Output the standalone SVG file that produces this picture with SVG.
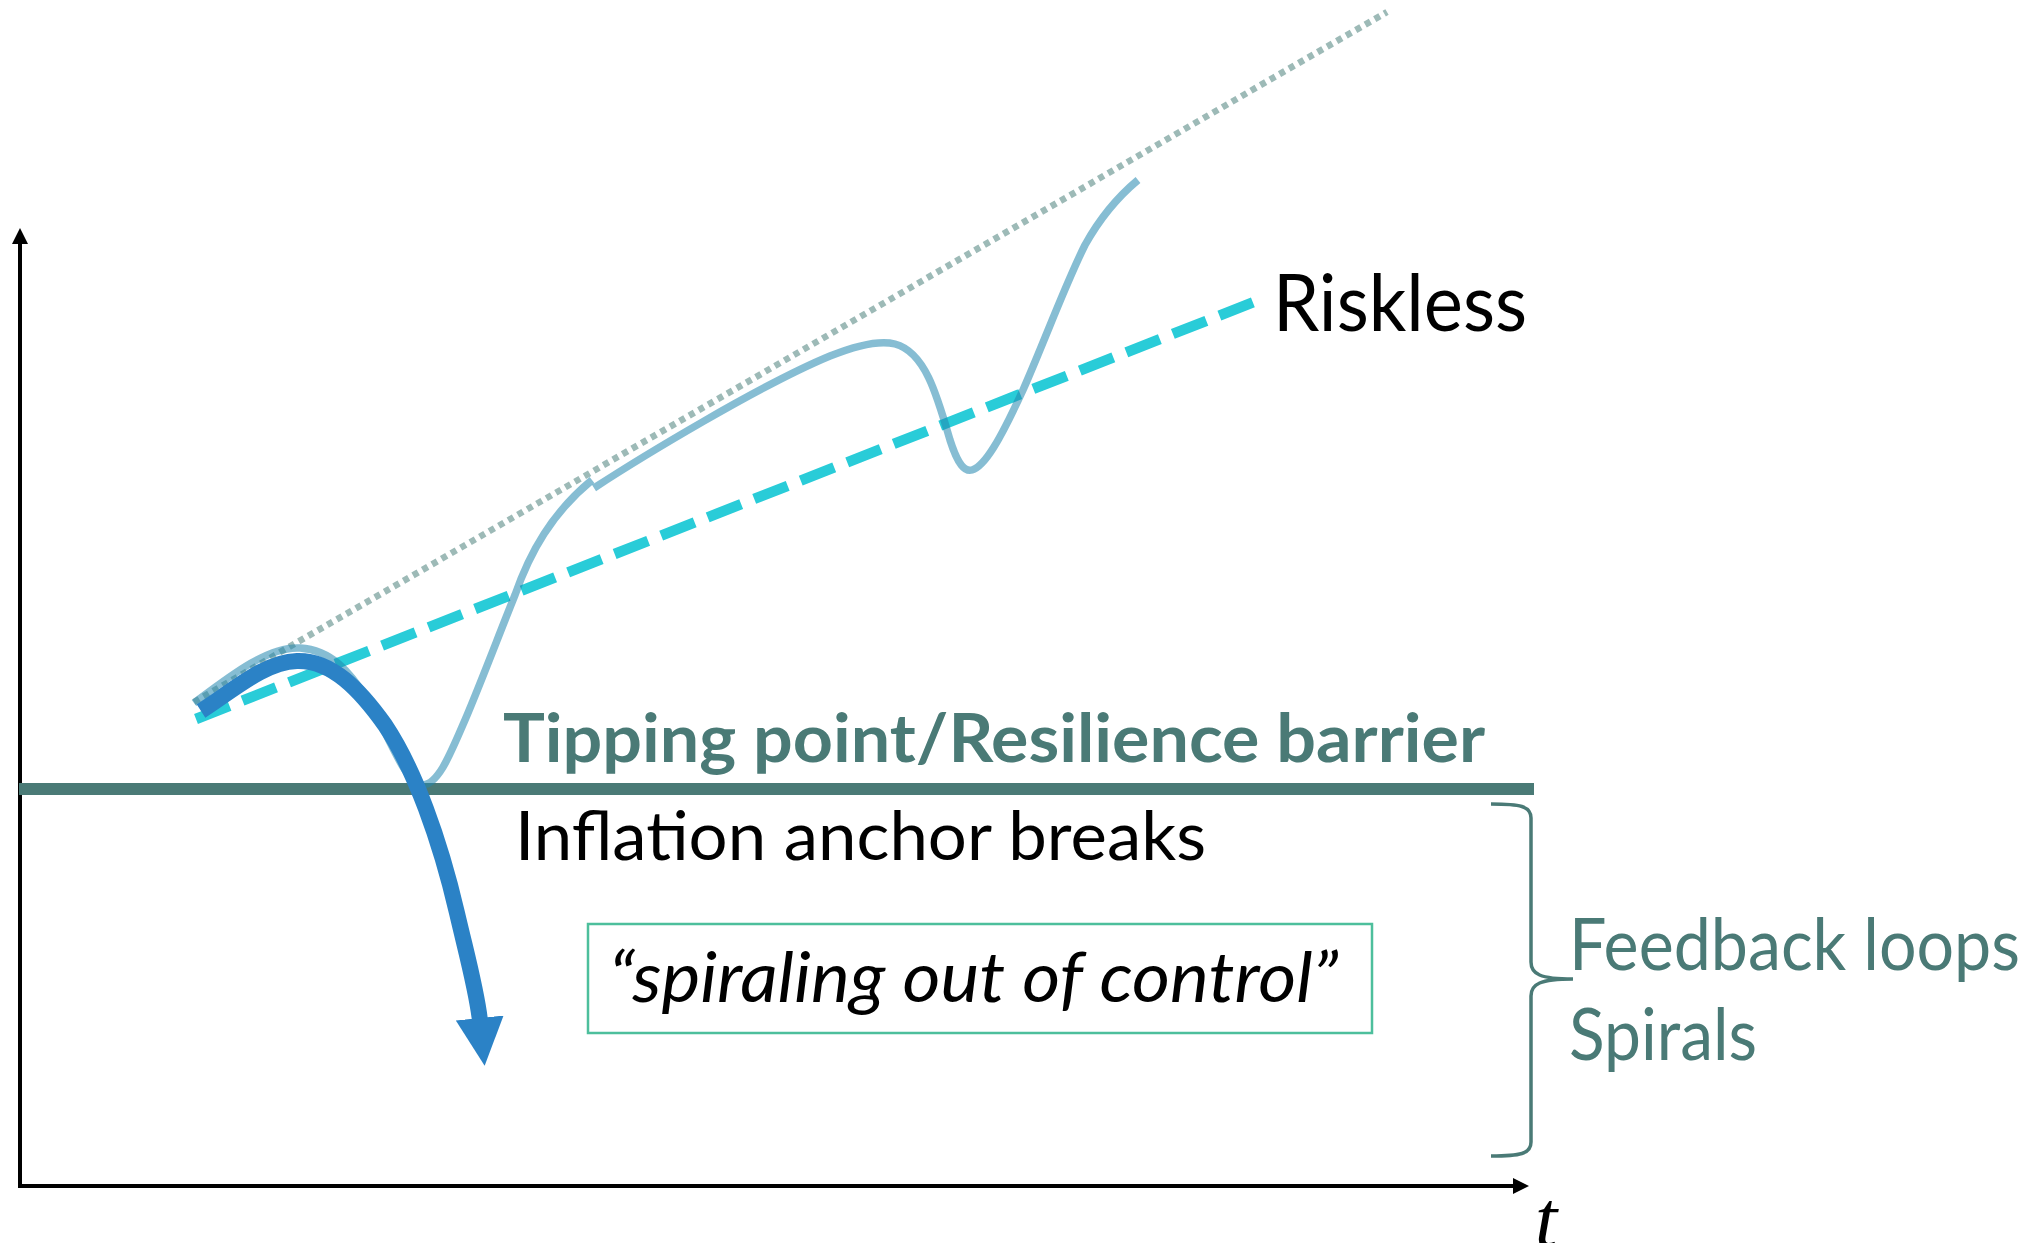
<svg xmlns="http://www.w3.org/2000/svg" width="2033" height="1243" viewBox="0 0 2033 1243">
<style>
.lbl{font-family:Lato,"Open Sans","Liberation Sans",sans-serif;}
.teal{fill:#4A7A76;}
.blk{fill:#000000;}
.ax{stroke:#000;stroke-width:4;fill:none;}
</style>
<defs>
<marker id="axHead" markerUnits="userSpaceOnUse" markerWidth="16" markerHeight="16" refX="1" refY="8" orient="auto">
<path d="M0,0 L16,8 L0,16 z" fill="#000"/>
</marker>
<marker id="blueHead" markerUnits="userSpaceOnUse" markerWidth="50" markerHeight="50" refX="3" refY="24" orient="auto">
<path d="M0,0 L48,24 L0,48 z" fill="#2B82C6"/>
</marker>
</defs>
<rect width="2033" height="1243" fill="#ffffff"/>

<g id="axes">
<line class="ax" x1="20" y1="1188" x2="20" y2="243" marker-end="url(#axHead)"/>
<line class="ax" x1="18" y1="1186" x2="1514" y2="1186" marker-end="url(#axHead)"/>
<text x="1535" y="1246" font-family="'Liberation Serif',serif" font-style="italic" font-size="80" fill="#000">t</text>
</g>

<g id="barrier">
<line x1="19" y1="789" x2="1534" y2="789" stroke="#4A7A76" stroke-width="12"/>
</g>

<g id="connectors">
<line id="trend-dotted" x1="194" y1="702" x2="1387" y2="12" stroke="#9DBAB7" stroke-width="6.5" stroke-dasharray="6 5"/>
<line id="riskless-dashed" x1="196" y1="719" x2="1254" y2="302" stroke="#29CCD8" stroke-width="10.5" stroke-dasharray="36 14"/>
<g id="path-recover" fill="none" stroke="#2387AF" stroke-opacity="0.55" stroke-width="7.5" stroke-linecap="butt">
<path d="M194,703 C230,676 268,646 300,648 C332,650 350,672 368,700 C385,727 405,785 422,785 C438,785 450,755 465,720 C480,685 500,632 515,595 C530,552 552,513 592,480"/>
<path d="M594,488 C640,458 760,385 830,356 C860,344 880,340 895,344 C925,352 937,395 950,440 C958,465 965,472 972,470 C985,466 1000,440 1023,390 C1045,340 1065,285 1085,245 C1100,218 1120,195 1138,180"/>
</g>
<path id="path-spiral" d="M201,711 C235,689 265,662 297,661 C332,660 360,690 385,725 C415,770 440,840 457,913 C468,960 477,992 480,1021" fill="none" stroke="#2B82C6" stroke-width="16" marker-end="url(#blueHead)"/>
</g>

<g id="label-riskless">
<text class="lbl blk" x="1273" y="331" font-size="79" textLength="254" lengthAdjust="spacingAndGlyphs">Riskless</text>
</g>
<g id="label-tipping">
<text class="lbl teal" x="503" y="762" font-size="66" font-weight="bold" textLength="982" lengthAdjust="spacingAndGlyphs">Tipping point/Resilience barrier</text>
</g>
<g id="label-inflation">
<text class="lbl blk" x="515" y="860" font-size="67" textLength="691" lengthAdjust="spacingAndGlyphs">Inflation anchor breaks</text>
</g>
<g id="box-spiraling">
<rect x="588" y="924" width="784" height="109" fill="none" stroke="#4DBF9C" stroke-width="2.5"/>
<text class="lbl blk" x="609" y="1002" font-size="70" font-style="italic" textLength="729" lengthAdjust="spacingAndGlyphs">“spiraling out of control”</text>
</g>
<g id="brace-feedback">
<path d="M1491,804 C1520,804 1531,806 1531,818 L1531,962 C1531,974 1540,979 1573,979 C1540,979 1531,984 1531,996 L1531,1142 C1531,1154 1520,1156 1491,1156" fill="none" stroke="#4A7A76" stroke-width="3.5"/>
<text class="lbl teal" x="1569" y="970" font-size="72" textLength="451" lengthAdjust="spacingAndGlyphs">Feedback loops</text>
<text class="lbl teal" x="1569" y="1060" font-size="72" textLength="188" lengthAdjust="spacingAndGlyphs">Spirals</text>
</g>
</svg>
